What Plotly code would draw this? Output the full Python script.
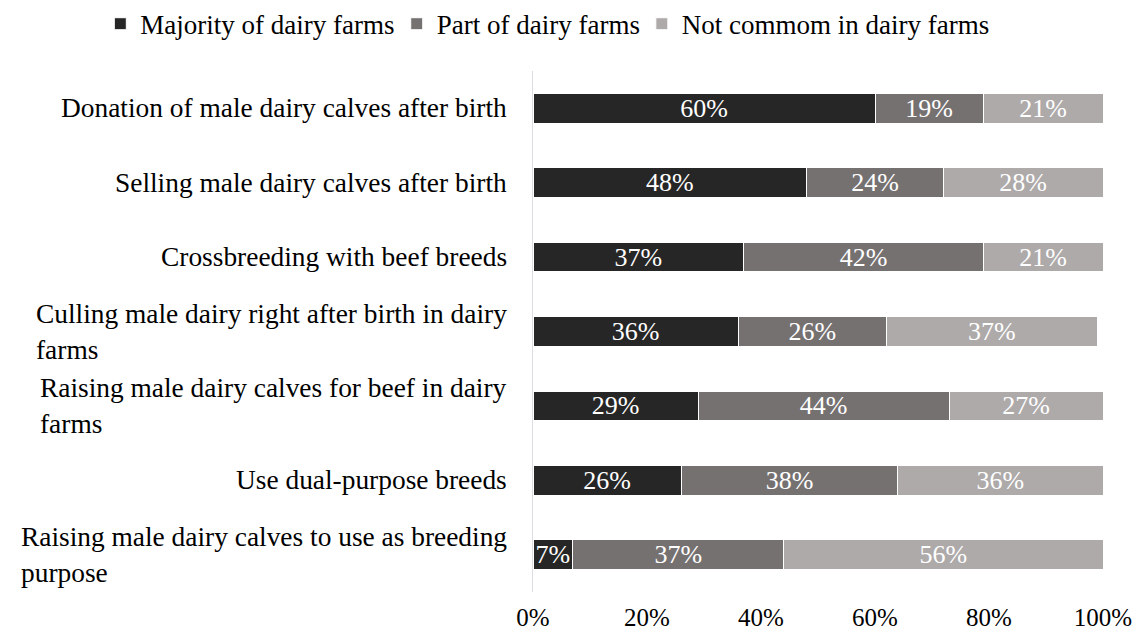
import plotly.graph_objects as go

# Practices for handling male dairy calves (top to bottom)
practices = [
    "Donation of male dairy calves after birth",
    "Selling male dairy calves after birth",
    "Crossbreeding with beef breeds",
    "Culling male dairy right after birth in dairy<br>farms",
    "Raising male dairy calves for beef in dairy<br>farms",
    "Use dual-purpose breeds",
    "Raising male dairy calves to use as breeding<br>purpose",
]

majority = [60, 48, 37, 36, 29, 26, 7]
part = [19, 24, 42, 26, 44, 38, 37]
not_common = [21, 28, 21, 37, 27, 36, 56]

series_names = ["Majority of dairy farms", "Part of dairy farms", "Not commom in dairy farms"]
series_colors = ["#262626", "#767171", "#AEAAAA"]

x_ticks = [0, 20, 40, 60, 80, 100]

FONT = "Liberation Serif"

# One legend per series so the entries sit in a single row
legend_ids = ["legend", "legend2", "legend3"]
legend_x = [0.088, 0.348, 0.563]

fig = go.Figure()
for name, vals, color, lid in zip(series_names, [majority, part, not_common], series_colors, legend_ids):
    fig.add_trace(go.Bar(
        y=practices,
        x=vals,
        name=name,
        legend=lid,
        showlegend=True,
        orientation="h",
        marker=dict(color=color, line=dict(color="white", width=1)),
        text=[f"{v}%" for v in vals],
        textposition="inside",
        insidetextanchor="middle",
        textangle=0,
        textfont=dict(color="white", size=26, family=FONT),
        hoverinfo="skip",
    ))

# Category labels drawn as left-aligned text blocks right of the axis edge
for p in practices:
    fig.add_annotation(
        x=0, xref="paper", y=p, yref="y",
        text=p, showarrow=False,
        xanchor="right", align="left",
        xshift=-24,
        font=dict(size=27.4, family=FONT, color="#000000"),
    )

legend_common = dict(
    orientation="h",
    yref="container", y=0.962, yanchor="middle",
    xref="container", xanchor="left",
    font=dict(size=27, family=FONT, color="#000000"),
    itemwidth=30,
    bgcolor="rgba(0,0,0,0)",
)

fig.update_layout(
    showlegend=True,
    barmode="stack",
    bargap=0.6,
    width=1140,
    height=636,
    margin=dict(l=533, r=37, t=71, b=44, autoexpand=False),
    plot_bgcolor="white",
    paper_bgcolor="white",
    font=dict(family=FONT, size=26, color="#000000"),
    uniformtext=dict(minsize=26, mode="show"),
    legend=dict(legend_common, x=legend_x[0]),
    legend2=dict(legend_common, x=legend_x[1]),
    legend3=dict(legend_common, x=legend_x[2]),
    xaxis=dict(
        range=[0, 100],
        tickvals=x_ticks,
        ticktext=[f"{t}%" for t in x_ticks],
        showgrid=False,
        zeroline=False,
        showline=False,
        ticks="",
        ticklabelstandoff=8,
        tickfont=dict(size=25, family=FONT),
    ),
    yaxis=dict(
        categoryorder="array",
        categoryarray=practices,
        autorange="reversed",
        showticklabels=False,
        showgrid=False,
        zeroline=False,
        showline=True,
        linecolor="#dadde3",
        linewidth=1,
        ticks="",
    ),
)

fig.write_html("out.html")
